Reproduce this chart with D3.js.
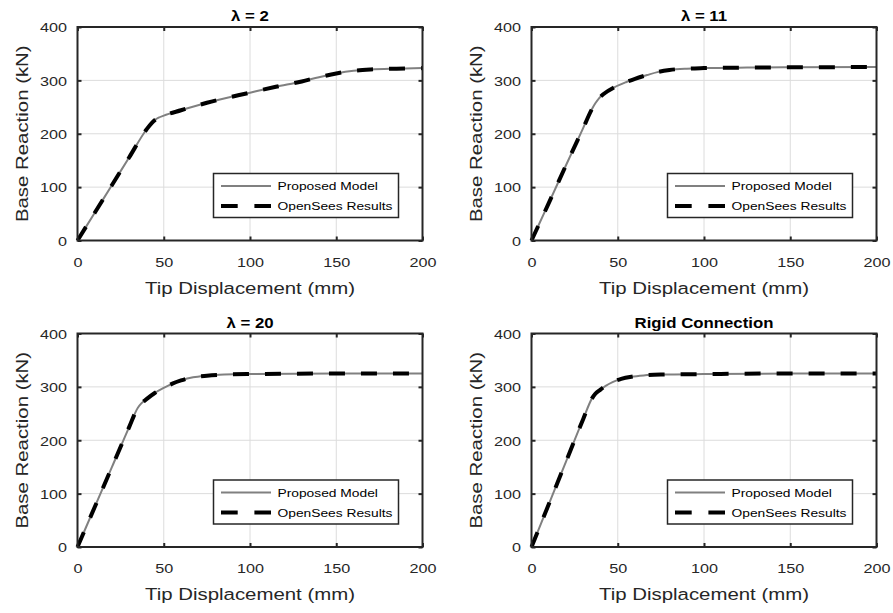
<!DOCTYPE html>
<html>
<head>
<meta charset="utf-8">
<script src="https://cdn.jsdelivr.net/npm/d3@7"></script>
<style>
  html, body { margin: 0; padding: 0; background: #fff; }
  svg { display: block; }
  text { font-family: "Liberation Sans", Arial, Helvetica, sans-serif; }
</style>
</head>
<body>
<svg id="chart" width="893" height="613"></svg>
<script>
// ---- data ----
const panelTitles = ["λ = 2", "λ = 11", "λ = 20", "Rigid Connection"];
const xTicks = [0, 50, 100, 150, 200];
const yTicks = [0, 100, 200, 300, 400];
const seriesNames = ["Proposed Model", "OpenSees Results"];

const dispL2  = [0, 10, 20, 30, 40, 43, 45, 47, 50, 60, 75, 100, 115, 130, 140, 150, 160, 170, 185, 200];
const forceL2 = [0, 52, 104, 156, 208, 220, 226, 230, 234, 244, 258, 277, 288, 298, 306, 313, 318, 320.5, 322, 323];

const dispL11  = [0, 10, 20, 30, 35, 37, 39, 42, 48, 55, 60, 67, 73, 80, 90, 100, 125, 150, 200];
const forceL11 = [0, 70, 141, 211, 246, 257, 266, 275, 287, 297, 303, 310, 315.5, 319.5, 322, 323, 324, 324.5, 325];

const dispL20  = [0, 10, 20, 30, 35, 37, 40, 45, 50, 55, 60, 67, 75, 85, 100, 150, 200];
const forceL20 = [0, 75, 150, 225, 261, 269, 277, 289, 298, 306, 312, 318, 321, 323, 324, 325, 325];

const dispRigid  = [0, 10, 20, 30, 35, 37, 40, 43, 47, 52, 58, 65, 75, 100, 150, 200];
const forceRigid = [0, 80, 160, 240, 278, 287, 295, 302, 309, 315, 319, 321.5, 323, 324, 325, 325];

// Proposed model and OpenSees results coincide in every panel
const panelDisp  = [dispL2, dispL11, dispL20, dispRigid];
const panelForce = [forceL2, forceL11, forceL20, forceRigid];

// ---- layout ----
const svg = d3.select("#chart");
const panels = [
  {x0: 77.5, x1: 876.5 - 454, y0: 27, y1: 240.5},
  {x0: 531.5, x1: 876.5, y0: 27, y1: 240.5},
  {x0: 77.5, x1: 876.5 - 454, y0: 333.5, y1: 547},
  {x0: 531.5, x1: 876.5, y0: 333.5, y1: 547}
];
const SX = 1.2; // horizontal widening of the glyphs
const axisColor = "#262626";

function addText(g, x, y, str, o) {
  o = o || {};
  return g.append("text")
    .attr("transform", `translate(${x},${y}) rotate(${o.rot || 0}) scale(${SX},1)`)
    .attr("text-anchor", o.anchor || "middle")
    .attr("font-size", o.size || 13)
    .attr("font-weight", o.weight || "normal")
    .attr("fill", o.fill || axisColor)
    .text(str);
}

panels.forEach((p, i) => {
  const g = svg.append("g");
  const x = d3.scaleLinear().domain([0, 200]).range([p.x0, p.x1]);
  const y = d3.scaleLinear().domain([0, 400]).range([p.y1, p.y0]);

  // grid
  g.append("g").selectAll("line.gx").data(xTicks).join("line")
    .attr("x1", d => x(d)).attr("x2", d => x(d))
    .attr("y1", p.y0).attr("y2", p.y1)
    .attr("stroke", "#dcdcdc").attr("stroke-width", 1);
  g.append("g").selectAll("line.gy").data(yTicks).join("line")
    .attr("y1", d => y(d)).attr("y2", d => y(d))
    .attr("x1", p.x0).attr("x2", p.x1)
    .attr("stroke", "#dcdcdc").attr("stroke-width", 1);

  // axes via d3 (ticks inward)
  const xAxisB = d3.axisBottom(x).tickValues(xTicks).tickSize(-4).tickPadding(16).tickFormat(d3.format("d"));
  const xAxisT = d3.axisTop(x).tickValues(xTicks).tickSize(-4).tickFormat("");
  const yAxisL = d3.axisLeft(y).tickValues(yTicks).tickSize(-4).tickPadding(14).tickFormat(d3.format("d"));
  const yAxisR = d3.axisRight(y).tickValues(yTicks).tickSize(-4).tickFormat("");

  const axB = g.append("g").attr("transform", `translate(0,${p.y1})`).call(xAxisB);
  const axT = g.append("g").attr("transform", `translate(0,${p.y0})`).call(xAxisT);
  const axL = g.append("g").attr("transform", `translate(${p.x0},0)`).call(yAxisL);
  const axR = g.append("g").attr("transform", `translate(${p.x1},0)`).call(yAxisR);
  [axB, axT, axL, axR].forEach(a => {
    a.select(".domain").remove();
    a.selectAll(".tick line").attr("stroke", axisColor).attr("stroke-width", 2);
  });
  // restyle tick labels with widened glyphs
  axB.selectAll(".tick text").each(function() {
    const t = d3.select(this);
    t.attr("font-size", 13.5).attr("fill", axisColor).attr("font-family", null)
     .attr("y", null).attr("dy", null)
     .attr("transform", `translate(0,26) scale(${SX},1)`);
  });
  axL.selectAll(".tick text").each(function() {
    const t = d3.select(this);
    t.attr("font-size", 13.5).attr("fill", axisColor).attr("font-family", null)
     .attr("x", null).attr("dy", "0.36em")
     .attr("transform", `translate(-10.5,0) scale(${SX},1)`);
  });

  // curves
  const pts = panelDisp[i].map((d, k) => [d, panelForce[i][k]]);
  const line = d3.line().x(d => x(d[0])).y(d => y(d[1])).curve(d3.curveMonotoneX);
  g.append("path").datum(pts).attr("d", line)
    .attr("fill", "none").attr("stroke", "#808080").attr("stroke-width", 2);
  g.append("path").datum(pts).attr("d", line)
    .attr("fill", "none").attr("stroke", "#000").attr("stroke-width", 4)
    .attr("stroke-dasharray", "16,16").attr("stroke-linecap", "butt");

  // box
  g.append("rect").attr("x", p.x0).attr("y", p.y0)
    .attr("width", p.x1 - p.x0).attr("height", p.y1 - p.y0)
    .attr("fill", "none").attr("stroke", axisColor).attr("stroke-width", 2);

  // labels
  addText(g, (p.x0 + p.x1) / 2, p.y0 - 6, panelTitles[i], {size: 14, weight: "bold", fill: "#000"});
  addText(g, (p.x0 + p.x1) / 2, p.y1 + 53, "Tip Displacement (mm)", {size: 17});
  addText(g, p.x0 - 49.5, (p.y0 + p.y1) / 2, "Base Reaction (kN)", {size: 17, rot: -90});

  // legend
  const lw = 185, lh = 44;
  const lx = p.x1 - 24 - lw, ly = p.y1 - 23 - lh;
  const lg = g.append("g").attr("transform", `translate(${lx},${ly})`);
  lg.append("rect").attr("width", lw).attr("height", lh)
    .attr("fill", "#fff").attr("stroke", axisColor).attr("stroke-width", 1.5);
  const rows = [12.4, 32.4];
  lg.append("line").attr("x1", 7.5).attr("x2", 57.5).attr("y1", rows[0]).attr("y2", rows[0])
    .attr("stroke", "#808080").attr("stroke-width", 2);
  lg.append("line").attr("x1", 7.5).attr("x2", 57.5).attr("y1", rows[1]).attr("y2", rows[1])
    .attr("stroke", "#000").attr("stroke-width", 4).attr("stroke-dasharray", "16.7,16.7");
  seriesNames.forEach((s, k) => {
    addText(lg, 64, rows[k] + 4.2, s, {size: 11.5, anchor: "start", fill: "#000"});
  });
});
</script>
</body>
</html>
